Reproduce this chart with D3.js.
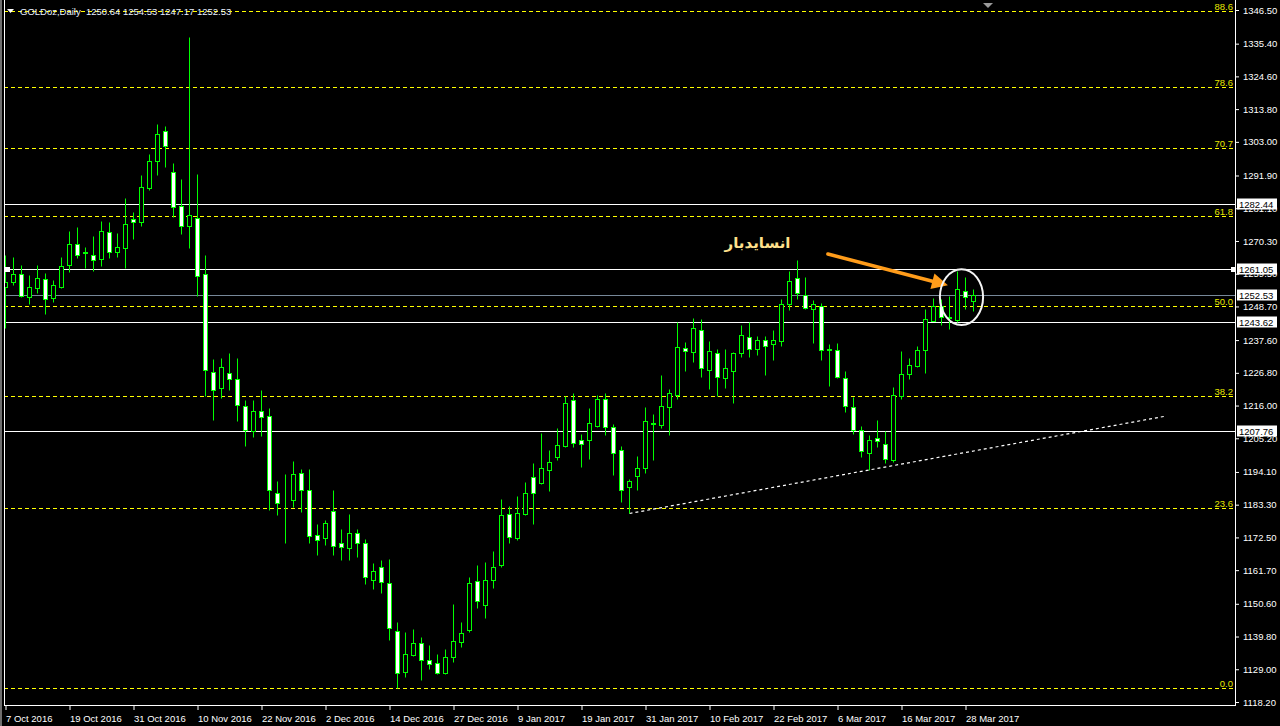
<!DOCTYPE html>
<html><head><meta charset="utf-8">
<script src="https://cdn.jsdelivr.net/npm/d3@7"></script>
<style>html,body{margin:0;padding:0;background:#000;overflow:hidden}</style>
</head><body>
<svg id="c" width="1280" height="726"></svg>
<script>
// ---- data (GOLDoz, Daily) ----
const opens  = [1255.0,1256.7,1259.3,1251.9,1254.9,1257.6,1251.4,1255.0,1262.3,1269.2,
1266.5,1265.6,1264.4,1273.2,1266.7,1268.1,1277.4,1276.6,1287.9,1296.7,
1306.6,1292.9,1281.8,1275.3,1277.8,1259.3,1227.1,1221.7,1226.9,1224.6,
1215.7,1207.5,1214.1,1212.4,1187.0,1183.6,1184.7,1193.6,1188.3,1173.2,
1172.4,1181.1,1170.5,1169.1,1173.8,1170.5,1158.5,1162.6,1157.3,1141.5,
1128.1,1133.7,1137.8,1132.2,1131.2,1127.8,1133.1,1138.1,1142.0,1158.0,
1150.2,1158.3,1163.5,1180.1,1172.4,1180.3,1192.5,1190.6,1194.8,1199.1,
1202.7,1217.7,1204.5,1204.7,1209.3,1218.0,1209.0,1201.2,1189.0,1192.6,
1195.3,1210.1,1209.5,1215.4,1219.5,1234.9,1233.7,1240.8,1227.6,1233.2,
1225.0,1227.3,1233.2,1238.5,1234.5,1237.5,1236.2,1237.4,1249.4,1258.0,
1252.4,1247.7,1249.0,1234.5,1234.2,1225.0,1215.4,1208.1,1200.5,1205.2,
1203.3,1198.2,1219.1,1226.3,1229.1,1234.2,1244.0,1248.7,1245.3,1244.2,
1253.9,1250.64];
const highs  = [1265.7,1265.0,1262.4,1259.1,1262.4,1259.6,1257.4,1265.0,1273.6,1274.9,
1268.3,1271.9,1276.9,1276.5,1272.9,1284.5,1279.8,1292.0,1299.0,1309.0,
1308.2,1296.0,1290.7,1337.6,1292.4,1265.6,1231.3,1231.7,1233.3,1231.7,
1217.8,1217.8,1221.1,1215.2,1191.1,1193.4,1197.7,1195.0,1195.0,1176.9,
1178.2,1188.1,1175.2,1180.2,1175.2,1171.9,1164.0,1165.0,1165.3,1144.5,
1141.2,1142.2,1139.6,1136.9,1134.0,1135.6,1150.5,1144.5,1159.4,1163.3,
1164.3,1168.0,1185.1,1182.8,1186.1,1190.7,1197.0,1206.9,1201.4,1208.7,
1219.0,1220.1,1206.6,1215.2,1219.5,1220.1,1209.9,1202.6,1191.7,1199.3,
1215.4,1213.2,1226.0,1221.4,1243.5,1237.0,1244.9,1244.5,1237.3,1234.7,
1234.6,1233.8,1242.5,1243.5,1238.8,1238.8,1240.9,1251.0,1260.3,1264.0,
1258.4,1250.8,1250.0,1236.2,1236.8,1227.3,1218.9,1209.2,1206.2,1211.2,
1207.6,1222.2,1234.0,1231.8,1235.6,1247.7,1251.5,1251.0,1252.1,1260.4,
1258.3,1254.53];
const lows   = [1241.6,1255.8,1251.8,1249.5,1253.1,1246.1,1250.2,1254.8,1260.1,1264.8,
1261.3,1260.5,1262.0,1264.8,1265.0,1261.3,1270.9,1275.2,1287.0,1292.0,
1294.8,1278.3,1272.6,1268.1,1252.2,1219.2,1211.3,1218.6,1221.1,1211.0,
1202.7,1205.5,1206.0,1181.7,1179.8,1170.6,1182.5,1180.9,1170.7,1166.6,
1169.9,1166.6,1165.0,1165.0,1166.0,1157.0,1155.5,1154.2,1138.7,1122.7,
1126.5,1133.4,1125.4,1129.0,1127.4,1127.6,1131.4,1136.4,1141.3,1149.3,
1146.0,1155.9,1162.8,1170.7,1171.6,1180.0,1177.0,1190.1,1187.9,1198.0,
1202.4,1202.4,1195.8,1198.3,1209.0,1206.2,1193.0,1184.2,1180.4,1188.1,
1193.6,1198.1,1208.5,1206.3,1218.0,1227.5,1230.4,1225.5,1221.5,1219.2,
1221.9,1216.7,1232.1,1232.1,1232.6,1226.1,1231.1,1235.7,1247.5,1251.0,
1247.7,1236.7,1230.9,1222.5,1225.0,1213.9,1206.5,1199.1,1194.7,1202.4,
1196.9,1197.4,1218.0,1224.6,1228.6,1226.8,1244.0,1242.6,1241.1,1243.6,
1247.7,1247.17];
const closes = [1256.9,1259.3,1252.3,1255.1,1258.0,1251.0,1255.7,1261.9,1269.2,1265.6,
1266.3,1264.1,1273.6,1266.7,1268.2,1275.8,1276.6,1288.0,1296.7,1305.5,
1301.6,1281.4,1275.3,1278.8,1258.8,1227.7,1221.0,1228.6,1224.6,1216.1,
1207.8,1214.1,1212.1,1188.3,1184.0,1183.4,1193.3,1188.0,1173.0,1171.5,
1177.4,1169.7,1169.4,1173.8,1170.5,1159.5,1161.5,1157.8,1142.7,1127.8,
1134.2,1137.8,1131.9,1130.9,1127.8,1133.2,1138.2,1141.1,1157.6,1151.6,
1158.3,1162.9,1179.8,1172.7,1180.7,1187.3,1187.0,1195.3,1197.3,1202.9,
1217.0,1203.8,1203.4,1210.1,1218.0,1208.8,1200.5,1188.3,1191.0,1195.3,
1210.8,1209.9,1215.7,1220.3,1235.3,1233.9,1241.5,1228.3,1233.9,1225.3,
1228.3,1233.5,1239.2,1234.5,1237.5,1235.5,1237.5,1249.4,1257.0,1253.0,
1248.1,1249.4,1234.2,1234.3,1225.3,1215.8,1208.1,1200.9,1204.8,1204.2,
1198.3,1219.4,1226.3,1229.3,1234.2,1244.4,1248.7,1245.1,1245.0,1254.3,
1251.9,1252.53];

const dateTickIndex  = [0,8,16,24,32,40,48,56,64,72,80,88,96,104,112,120];
const dateTickLabels = ["7 Oct 2016","19 Oct 2016","31 Oct 2016","10 Nov 2016","22 Nov 2016",
  "2 Dec 2016","14 Dec 2016","27 Dec 2016","9 Jan 2017","19 Jan 2017","31 Jan 2017",
  "10 Feb 2017","22 Feb 2017","6 Mar 2017","16 Mar 2017","28 Mar 2017"];
const priceTicks = [1346.50,1335.40,1324.60,1313.80,1303.00,1291.90,1281.10,1270.30,1259.50,
  1248.70,1237.60,1226.80,1216.00,1205.20,1194.10,1183.30,1172.50,1161.70,1150.60,1139.80,
  1129.00,1118.20];

const fibLevels = [0.0,23.6,38.2,50.0,61.8,70.7,78.6,88.6];
const fibLow = 1122.8, fibHigh = 1375.0;
const hLines = [1282.44,1261.05,1243.62,1207.76];
const bidPrice = 1252.53;
const trendLine = [{i:78,p:1180.4},{i:145,p:1212.5}];
const arrowFrom = {i:102.8,p:1266.0}, arrowTo = {i:117.8,p:1255.7};
const circleMark = {i:119.5,p:1251.8,ri:2.7,rp:9.2};
const noteText = {i:94,p:1269.6,text:"انسایدبار"};
const titleText = "GOLDoz,Daily  1250.64 1254.53 1247.17 1252.53";

// ---- drawing ----
const W=1280,H=726;
const plotL=4, plotR=1235, plotT=0, plotB=705;
const svg=d3.select('#c');
svg.append('rect').attr('width',W).attr('height',H).attr('fill','#000');

const x=d3.scaleLinear().domain([0,1]).range([5.5,13.5]);
const y=d3.scaleLinear().domain([1118.2,1346.5]).range([702,10]);
const cy=p=>Math.round(y(p))+0.5;

svg.append('clipPath').attr('id','pc').append('rect')
  .attr('x',plotL+1).attr('y',plotT).attr('width',plotR-plotL-1).attr('height',plotB-plotT);
const g=svg.append('g').attr('clip-path','url(#pc)');

// fib dashed lines
fibLevels.forEach(l=>{
  const p=fibLow+(fibHigh-fibLow)*l/100;
  g.append('line').attr('x1',plotL).attr('x2',plotR-2).attr('y1',cy(p)).attr('y2',cy(p))
    .attr('stroke','#ffff00').attr('stroke-width',1).attr('stroke-dasharray','4,3');
  g.append('text').attr('x',plotR-2).attr('y',cy(p)-2).attr('text-anchor','end')
    .attr('font-family','Liberation Sans, Arial, sans-serif').attr('font-size',9.5)
    .attr('fill','#e6e600').text(l.toFixed(1));
});

// white horizontal lines
hLines.forEach(p=>{
  g.append('line').attr('x1',plotL).attr('x2',plotR).attr('y1',cy(p)).attr('y2',cy(p))
    .attr('stroke','#ffffff').attr('stroke-width',1);
});
// bid line
g.append('line').attr('x1',plotL).attr('x2',plotR).attr('y1',cy(bidPrice)).attr('y2',cy(bidPrice))
  .attr('stroke','#778899').attr('stroke-width',1);

// trend line
g.append('line').attr('x1',x(trendLine[0].i)).attr('y1',y(trendLine[0].p))
  .attr('x2',x(trendLine[1].i)).attr('y2',y(trendLine[1].p))
  .attr('stroke','#ffffff').attr('stroke-width',1.2).attr('stroke-dasharray','3,3');

// candles
const data=opens.map((o,i)=>({i,o,h:highs[i],l:lows[i],c:closes[i]}));
const cg=g.append('g');
const cand=cg.selectAll('g.k').data(data).join('g').attr('class','k');
cand.append('line')
  .attr('x1',d=>Math.round(x(d.i)-0.5)+0.5).attr('x2',d=>Math.round(x(d.i)-0.5)+0.5)
  .attr('y1',d=>cy(d.h)).attr('y2',d=>cy(d.l))
  .attr('stroke','#00ff00').attr('stroke-width',1);
cand.append('rect')
  .attr('x',d=>Math.round(x(d.i)-0.5)+0.5-2).attr('width',4)
  .attr('y',d=>cy(Math.max(d.o,d.c)))
  .attr('height',d=>Math.max(0,cy(Math.min(d.o,d.c))-cy(Math.max(d.o,d.c))))
  .attr('fill',d=>d.c<d.o?'#ffffff':'#000000')
  .attr('stroke','#00ff00').attr('stroke-width',1);

// handles on 1261.05 line
g.append('rect').attr('x',plotL+1).attr('y',cy(hLines[1])-2.5).attr('width',5).attr('height',5).attr('fill','#fff');

// annotations: text, arrow, ellipse
g.append('text').attr('x',x(noteText.i)).attr('y',y(noteText.p)+5).attr('text-anchor','middle')
  .attr('font-family','DejaVu Sans, sans-serif').attr('font-weight','bold').attr('font-size',15)
  .attr('fill','#ffe08c').attr('direction','rtl').text(noteText.text);

const ax1=x(arrowFrom.i), ay1=y(arrowFrom.p), ax2=x(arrowTo.i), ay2=y(arrowTo.p);
const ang=Math.atan2(ay2-ay1,ax2-ax1), hl=16, hw=8;
const bx=ax2-hl*Math.cos(ang), by=ay2-hl*Math.sin(ang);
g.append('line').attr('x1',ax1).attr('y1',ay1).attr('x2',bx).attr('y2',by)
  .attr('stroke','#ff9c1a').attr('stroke-width',3.5).attr('stroke-linecap','round');
g.append('polygon').attr('points',[
  [ax2,ay2],
  [bx+hw*Math.sin(ang),by-hw*Math.cos(ang)],
  [bx-hw*Math.sin(ang),by+hw*Math.cos(ang)]].map(p=>p.join(',')).join(' '))
  .attr('fill','#ff9c1a');

g.append('ellipse').attr('cx',x(circleMark.i)).attr('cy',y(circleMark.p))
  .attr('rx',x(circleMark.ri)-x(0)).attr('ry',y(circleMark.p-circleMark.rp)-y(circleMark.p))
  .attr('fill','none').attr('stroke','#f4f4f4').attr('stroke-width',2);

// frame
svg.append('rect').attr('x',0).attr('y',0).attr('width',2).attr('height',H).attr('fill','#6e6e6e');
svg.append('line').attr('x1',plotL+0.5).attr('x2',plotL+0.5).attr('y1',0).attr('y2',plotB+0.5).attr('stroke','#fff');
svg.append('line').attr('x1',plotL).attr('x2',plotR+1).attr('y1',plotB+0.5).attr('y2',plotB+0.5).attr('stroke','#fff');
svg.append('line').attr('x1',plotR+0.5).attr('x2',plotR+0.5).attr('y1',0).attr('y2',plotB+0.5).attr('stroke','#fff');
svg.append('polygon').attr('points','983,3 993,3 988,8').attr('fill','#9a9a9a');

// right axis
const ra=svg.append('g').attr('transform',`translate(${plotR+1},0)`)
  .call(d3.axisRight(y).tickValues(priceTicks).tickFormat(d3.format('.2f')).tickSize(3));
ra.select('.domain').remove();
ra.selectAll('line').attr('stroke','#fff');
ra.selectAll('text').attr('x',7).attr('fill','#fff')
  .attr('font-family','Liberation Sans, Arial, sans-serif').attr('font-size',9.5);

// price boxes
[...hLines,bidPrice].forEach(p=>{
  svg.append('rect').attr('x',plotR+2).attr('y',cy(p)-6).attr('width',40).attr('height',11).attr('fill','#fff');
  svg.append('text').attr('x',plotR+4).attr('y',cy(p)).attr('dy','0.35em').attr('fill','#000')
    .attr('font-family','Liberation Sans, Arial, sans-serif').attr('font-size',9.5).text(p.toFixed(2));
});
svg.append('rect').attr('x',plotR-4).attr('y',cy(hLines[1])-2.5).attr('width',5).attr('height',5).attr('fill','#fff');

// bottom axis
const ba=svg.append('g').attr('transform',`translate(0,${plotB})`)
  .call(d3.axisBottom(x).tickValues(dateTickIndex).tickFormat((d,i)=>dateTickLabels[i]).tickSize(5));
ba.select('.domain').remove();
ba.selectAll('line').attr('stroke','#fff');
ba.selectAll('text').attr('text-anchor','start').attr('y',10).attr('fill','#fff')
  .attr('font-family','Liberation Sans, Arial, sans-serif').attr('font-size',9.5);

// title
svg.append('polygon').attr('points','7,9 14,9 10.5,13').attr('fill','#fff');
svg.append('text').attr('x',20).attr('y',15).attr('fill','#e8f0ff')
  .attr('font-family','Liberation Sans, Arial, sans-serif').attr('font-size',9.5)
  .attr('xml:space','preserve').style('white-space','pre').text(titleText);
</script>
</body></html>
